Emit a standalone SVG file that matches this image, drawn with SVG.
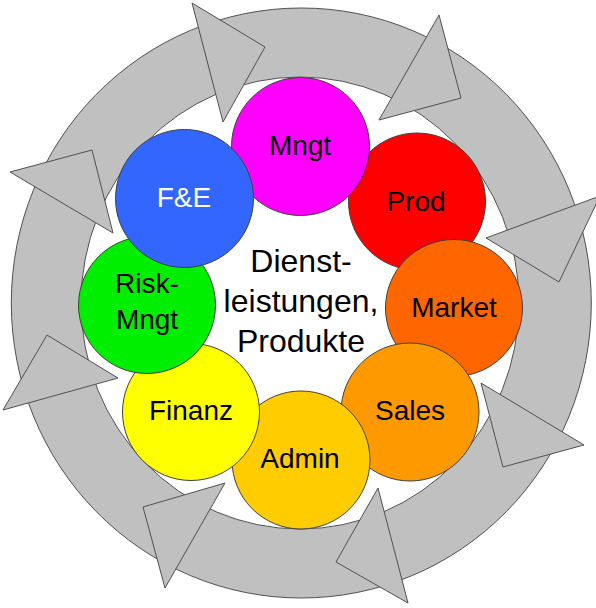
<svg xmlns="http://www.w3.org/2000/svg" width="596" height="608" viewBox="0 0 596 608">
<style>
.ring{fill:#C0C0C0;stroke:#505050;stroke-width:1;fill-rule:evenodd}
.arr{fill:#C0C0C0;stroke:#505050;stroke-width:1;stroke-linejoin:miter}
.c{stroke:#404040;stroke-width:1}
.t{font-family:"Liberation Sans",Arial,sans-serif;font-size:28px;text-anchor:middle;fill:#000}
.ct{font-family:"Liberation Sans",Arial,sans-serif;font-size:32px;text-anchor:middle;fill:#000}
</style>
<rect width="596" height="608" fill="#FFFFFF"/>
<g id="connectors">
<path class="ring" d="M11.3,303 a290,295 0 1 0 580,0 a290,295 0 1 0 -580,0 Z M81,303 a219,226 0 1 0 438,0 a219,226 0 1 0 -438,0 Z"/>
<polygon class="arr" points="192,3 265,47 223,122"/>
<polygon class="arr" points="439,15 461,98 379,120"/>
<polygon class="arr" points="600,196 559,282 486,238"/>
<polygon class="arr" points="481,383 584,445 503,467"/>
<polygon class="arr" points="378,488 408,603 336,562"/>
<polygon class="arr" points="225,483 165,588 143,507"/>
<polygon class="arr" points="118,378 3,410 47,335"/>
<polygon class="arr" points="113,233 10,172 92,150"/>
</g>
<g id="prod"><circle class="c" cx="417" cy="201.5" r="68.5" fill="#FF0000"/><text class="t" x="416" y="211">Prod</text></g>
<g id="market"><circle class="c" cx="454" cy="308" r="68.5" fill="#FF6600"/><text class="t" x="454" y="317">Market</text></g>
<g id="sales"><circle class="c" cx="410" cy="412" r="69" fill="#FF9900"/><text class="t" x="410" y="419.5">Sales</text></g>
<g id="admin"><circle class="c" cx="301" cy="460" r="69" fill="#FFCC00"/><text class="t" x="300" y="467.5">Admin</text></g>
<g id="finanz"><circle class="c" cx="191" cy="412" r="68.5" fill="#FFFF00"/><text class="t" x="191" y="419.5">Finanz</text></g>
<g id="riskmngt"><circle class="c" cx="147" cy="305" r="68.5" fill="#00EE00"/><text class="t" x="147" y="293">Risk-</text><text class="t" x="147" y="328.5">Mngt</text></g>
<g id="mngt"><circle class="c" cx="300.5" cy="146.5" r="69" fill="#FF00FF"/><text class="t" x="300" y="155">Mngt</text></g>
<g id="fe"><circle class="c" cx="184.5" cy="198.5" r="69" fill="#3366FF"/><text class="t" x="184" y="207" fill="#FFFFFF" style="fill:#FFFFFF">F&amp;E</text></g>
<g id="center"><text class="ct" x="301" y="271.5">Dienst-</text><text class="ct" x="301" y="311.5">leistungen,</text><text class="ct" x="301" y="351.5">Produkte</text></g>
</svg>
